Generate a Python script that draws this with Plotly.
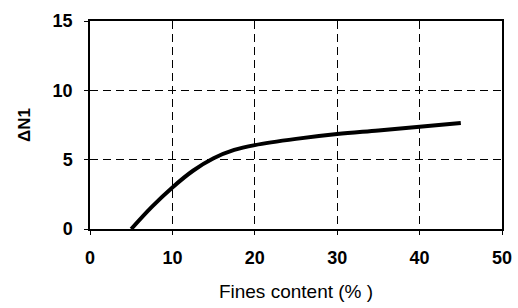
import plotly.graph_objects as go

fines = [5, 7.5, 10, 12.5, 15, 17.5, 20, 25, 30, 35, 40, 45]
dn1 = [0, 1.6, 3.0, 4.2, 5.1, 5.7, 6.05, 6.5, 6.85, 7.1, 7.37, 7.65]
x_ticks = [0, 10, 20, 30, 40, 50]
y_ticks = [0, 5, 10, 15]

fig = go.Figure()
fig.add_trace(go.Scatter(x=fines, y=dn1, mode="lines", line=dict(color="black", width=4, shape="spline"),
                         showlegend=False, hoverinfo="skip"))

font = dict(family="Liberation Sans, Arial", size=18, color="black")
fig.update_layout(
    width=518, height=308,
    margin=dict(l=90, r=16, t=21, b=79),
    paper_bgcolor="white", plot_bgcolor="white",
    font=font,
    xaxis=dict(range=[0, 50], tickvals=x_ticks, ticktext=[f"<b>{v}</b>" for v in x_ticks],
               showgrid=True, gridcolor="black", griddash="8px,5px", gridwidth=1,
               showline=True, linecolor="black", linewidth=1.5, mirror=True,
               ticks="outside", ticklen=4, tickcolor="black", zeroline=False,
               automargin=False, ticklabelstandoff=8,
               title=dict(text="Fines content (% )",
                          font=dict(family="Liberation Sans, Arial", size=19, color="black"), standoff=17)),
    yaxis=dict(range=[0, 15], tickvals=y_ticks, ticktext=[f"<b>{v}</b>" for v in y_ticks],
               showgrid=True, gridcolor="black", griddash="8px,5px", gridwidth=1,
               showline=True, linecolor="black", linewidth=1.5, mirror=True,
               ticks="outside", ticklen=4, tickcolor="black", zeroline=False,
               automargin=False, ticklabelstandoff=8,
               title=dict(text="<b>ΔN1</b>",
                          font=dict(family="Liberation Sans, Arial", size=17, color="black"), standoff=18)),
)
fig.write_html("out.html", config={"displayModeBar": False},
               post_script="document.body.style.margin='0';document.body.style.padding='0';")
